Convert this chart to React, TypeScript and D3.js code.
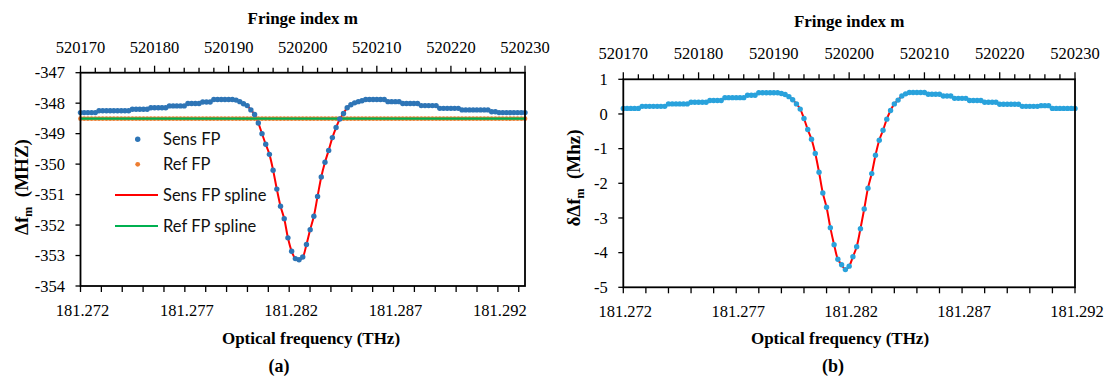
import React from 'react';
import * as d3 from 'd3';

// fringe index offsets from 520170 (half-fringe sampling)
const fringeOffset = [
  0, 0.5, 1, 1.5, 2, 2.5, 3, 3.5, 4, 4.5, 5, 5.5, 6, 6.5, 7, 7.5, 8, 8.5, 9, 9.5,
  10, 10.5, 11, 11.5, 12, 12.5, 13, 13.5, 14, 14.5, 15, 15.5, 16, 16.5, 17, 17.5, 18, 18.5, 19, 19.5,
  20, 20.5, 21, 21.5, 22, 22.5, 23, 23.5, 24, 24.5, 25, 25.5, 26, 26.5, 27, 27.5, 28, 28.5, 29, 29.5,
  30, 30.5, 31, 31.5, 32, 32.5, 33, 33.5, 34, 34.5, 35, 35.5, 36, 36.5, 37, 37.5, 38, 38.5, 39, 39.5,
  40, 40.5, 41, 41.5, 42, 42.5, 43, 43.5, 44, 44.5, 45, 45.5, 46, 46.5, 47, 47.5, 48, 48.5, 49, 49.5,
  50, 50.5, 51, 51.5, 52, 52.5, 53, 53.5, 54, 54.5, 55, 55.5, 56, 56.5, 57, 57.5, 58, 58.5, 59, 59.5,
  60,
];

// (a) Δf_m of the sensing FP (MHz)
const sensFP = [
  -348.31, -348.31, -348.31, -348.31, -348.31, -348.25, -348.25, -348.25, -348.25, -348.25,
  -348.25, -348.25, -348.25, -348.25, -348.2, -348.2, -348.2, -348.2, -348.2, -348.15,
  -348.15, -348.15, -348.15, -348.15, -348.09, -348.09, -348.09, -348.09, -348.09, -348.01,
  -348.01, -348.01, -348.01, -347.96, -347.96, -347.96, -347.88, -347.88, -347.88, -347.88,
  -347.88, -347.88, -347.9, -347.95, -348.02, -348.08, -348.22, -348.37, -348.65, -349.0,
  -349.35, -349.68, -350.2, -350.82, -351.38, -351.79, -352.42, -352.86, -353.1, -353.14,
  -353.05, -352.64, -352.15, -351.71, -351.06, -350.42, -349.94, -349.55, -349.13, -348.8,
  -348.52, -348.34, -348.15, -348.05, -347.99, -347.95, -347.92, -347.88, -347.88, -347.88,
  -347.88, -347.88, -347.88, -347.95, -347.95, -347.95, -347.95, -348.01, -348.01, -348.01,
  -348.01, -348.01, -348.08, -348.08, -348.08, -348.08, -348.08, -348.17, -348.17, -348.17,
  -348.17, -348.17, -348.17, -348.22, -348.22, -348.22, -348.22, -348.22, -348.22, -348.22,
  -348.22, -348.28, -348.28, -348.31, -348.31, -348.31, -348.31, -348.31, -348.31, -348.31,
  -348.31,
];

// (a) Δf_m of the reference FP (MHz)
const refFP = [
  -348.51, -348.51, -348.51, -348.51, -348.51, -348.51, -348.51, -348.51, -348.51, -348.51,
  -348.51, -348.51, -348.51, -348.51, -348.51, -348.51, -348.51, -348.51, -348.51, -348.51,
  -348.51, -348.51, -348.51, -348.51, -348.51, -348.51, -348.51, -348.51, -348.51, -348.51,
  -348.51, -348.51, -348.51, -348.51, -348.51, -348.51, -348.51, -348.51, -348.51, -348.51,
  -348.51, -348.51, -348.51, -348.51, -348.51, -348.51, -348.51, -348.51, -348.51, -348.51,
  -348.51, -348.51, -348.51, -348.51, -348.51, -348.51, -348.51, -348.51, -348.51, -348.51,
  -348.51, -348.51, -348.51, -348.51, -348.51, -348.51, -348.51, -348.51, -348.51, -348.51,
  -348.51, -348.51, -348.51, -348.51, -348.51, -348.51, -348.51, -348.51, -348.51, -348.51,
  -348.51, -348.51, -348.51, -348.51, -348.51, -348.51, -348.51, -348.51, -348.51, -348.51,
  -348.51, -348.51, -348.51, -348.51, -348.51, -348.51, -348.51, -348.51, -348.51, -348.51,
  -348.51, -348.51, -348.51, -348.51, -348.51, -348.51, -348.51, -348.51, -348.51, -348.51,
  -348.51, -348.51, -348.51, -348.51, -348.51, -348.51, -348.51, -348.51, -348.51, -348.51,
  -348.51,
];

// (b) δΔf_m (MHz)
const diffFP = [
  0.16, 0.16, 0.16, 0.16, 0.16, 0.22, 0.22, 0.22, 0.22, 0.22,
  0.22, 0.22, 0.29, 0.29, 0.29, 0.29, 0.29, 0.29, 0.34, 0.34,
  0.34, 0.34, 0.34, 0.39, 0.39, 0.39, 0.39, 0.47, 0.47, 0.47,
  0.47, 0.47, 0.47, 0.54, 0.54, 0.54, 0.61, 0.61, 0.61, 0.61,
  0.61, 0.61, 0.59, 0.56, 0.5, 0.41, 0.29, 0.14, -0.13, -0.45,
  -0.73, -1.14, -1.68, -2.28, -2.69, -3.28, -3.77, -4.19, -4.35, -4.49,
  -4.39, -4.12, -3.83, -3.31, -2.74, -2.14, -1.72, -1.19, -0.76, -0.47,
  -0.15, 0.1, 0.29, 0.4, 0.52, 0.58, 0.62, 0.62, 0.62, 0.62,
  0.62, 0.57, 0.57, 0.57, 0.57, 0.52, 0.52, 0.52, 0.45, 0.45,
  0.45, 0.45, 0.39, 0.39, 0.39, 0.39, 0.34, 0.34, 0.34, 0.34,
  0.28, 0.28, 0.28, 0.28, 0.28, 0.28, 0.22, 0.22, 0.22, 0.22,
  0.22, 0.24, 0.24, 0.24, 0.16, 0.16, 0.16, 0.16, 0.16, 0.16,
  0.16,
];

const fringeTicks = [520170, 520180, 520190, 520200, 520210, 520220, 520230];
const freqTicks = [181.272, 181.277, 181.282, 181.287, 181.292];
const leftYTicks = [-354, -353, -352, -351, -350, -349, -348, -347];
const rightYTicks = [-5, -4, -3, -2, -1, 0, 1];
const legendLabels = ['Sens FP', 'Ref FP', 'Sens FP spline', 'Ref FP spline'];

const SERIF = '"Liberation Serif", "Times New Roman", serif';
const SANS = 'Lato, "Noto Sans", sans-serif';
const M0 = 520170;

type Pt = { m: number; v: number };
const toPts = (vals: number[]): Pt[] => vals.map((v, i) => ({ m: M0 + fringeOffset[i], v }));

interface PanelProps {
  left: number;
  right: number;
  top: number;
  bottom: number;
  freqMax: number;
  yDomain: [number, number];
  yTicks: number[];
  topTitleY: number;
  topLabelY: number;
  bottomTitleX: number;
  letterX: number;
  letter: string;
  yTitle: React.ReactNode;
  children: (x: d3.ScaleLinear<number, number>, y: d3.ScaleLinear<number, number>) => React.ReactNode;
}

const Panel: React.FC<PanelProps> = (p) => {
  const x = d3.scaleLinear().domain([M0, M0 + 60]).range([p.left, p.right]);
  const xf = d3.scaleLinear().domain([181.272, p.freqMax]).range([p.left, p.right]);
  const y = d3.scaleLinear().domain(p.yDomain).range([p.bottom, p.top]);

  const minorTop = d3.range(M0, M0 + 60.01, 2);
  const minorBottom = d3.range(0, Math.floor((p.freqMax - 181.272) * 1000 + 1e-6) + 1).map((k) => 181.272 + k * 0.001);

  return (
    <g>
      <defs>
        <clipPath id={`clip-${p.letter}`}>
          <rect x={p.left} y={p.top} width={p.right - p.left} height={p.bottom - p.top} />
        </clipPath>
      </defs>
      <g clipPath={`url(#clip-${p.letter})`}>{p.children(x, y)}</g>
      <rect x={p.left} y={p.top} width={p.right - p.left} height={p.bottom - p.top}
        fill="none" stroke="#000" strokeWidth={1.8} />
      {/* top axis: fringe index */}
      {minorTop.map((m) => {
        const major = Math.abs((m - M0) % 10) < 1e-6;
        return <line key={'t' + m} x1={x(m)} x2={x(m)} y1={p.top} y2={p.top - (major ? 7 : 5)} stroke="#000" strokeWidth={1.3} />;
      })}
      {fringeTicks.map((m) => (
        <text key={'tl' + m} x={x(m)} y={p.topLabelY} textAnchor="middle" fontFamily={SERIF} fontSize={16.5}>{m}</text>
      ))}
      <text x={(p.left + p.right) / 2} y={p.topTitleY} textAnchor="middle" fontFamily={SERIF} fontWeight="bold" fontSize={17}>
        Fringe index m
      </text>
      {/* bottom axis: optical frequency */}
      {minorBottom.map((f, i) => (
        <line key={'b' + i} x1={xf(f)} x2={xf(f)} y1={p.bottom} y2={p.bottom + 6} stroke="#000" strokeWidth={1.3} />
      ))}
      {freqTicks.map((f) => (
        <text key={'bl' + f} x={xf(f) + 2} y={p.bottom + 30} textAnchor="middle" fontFamily={SERIF} fontSize={16.5}>{f.toFixed(3)}</text>
      ))}
      <text x={p.bottomTitleX} y={344} textAnchor="middle" fontFamily={SERIF} fontWeight="bold" fontSize={17}>
        Optical frequency (THz)
      </text>
      <text x={p.letterX} y={372} textAnchor="middle" fontFamily={SERIF} fontWeight="bold" fontSize={18}>
        {p.letter}
      </text>
      {/* left axis */}
      {p.yTicks.map((t) => (
        <g key={'y' + t}>
          <line x1={p.left - 5} x2={p.left} y1={y(t)} y2={y(t)} stroke="#000" strokeWidth={1.3} />
          <text x={p.left - 15.5} y={y(t)} dy="0.35em" textAnchor="end" fontFamily={SERIF} fontSize={16.5}>{t}</text>
        </g>
      ))}
      {p.yTitle}
    </g>
  );
};

const App: React.FC = () => {
  const sens = toPts(sensFP);
  const ref = toPts(refFP);
  const diff = toPts(diffFP);

  return (
    <svg width={1107} height={378} style={{ position: 'absolute', left: 0, top: 0, background: '#fff' }}>
      <Panel left={80.5} right={525} top={72.7} bottom={286} freqMax={181.2933}
        yDomain={[-354, -347]} yTicks={leftYTicks} topTitleY={24} topLabelY={53}
        bottomTitleX={311} letterX={279} letter="(a)"
        yTitle={
          <text transform="translate(28,187) rotate(-90)" textAnchor="middle" fontFamily={SERIF} fontWeight="bold" fontSize={19}>
            Δf<tspan dy={4} fontSize={12}>m</tspan><tspan dy={-4}>{'\u2002(MHZ)'}</tspan>
          </text>
        }>
        {(x, y) => {
          const line = d3.line<Pt>().x((d) => x(d.m)).y((d) => y(d.v)).curve(d3.curveCatmullRom);
          return (
            <g>
              <path d={line(sens) || ''} fill="none" stroke="#ff0000" strokeWidth={2} />
              {ref.map((d, i) => <circle key={'r' + i} cx={x(d.m)} cy={y(d.v)} r={2.4} fill="#ed7d31" />)}
              <path d={line(ref) || ''} fill="none" stroke="#00b050" strokeWidth={2.2} />
              {sens.map((d, i) => <circle key={'s' + i} cx={x(d.m)} cy={y(d.v)} r={2.7} fill="#2e75b6" />)}
            </g>
          );
        }}
      </Panel>
      {/* legend (a) */}
      <g fontFamily={SANS} fontSize={16.5} fill="#111">
        <circle cx={137.7} cy={139.3} r={2.7} fill="#2e75b6" />
        <text x={163} y={139.3} dy="0.35em">{legendLabels[0]}</text>
        <circle cx={137.7} cy={164.3} r={2.4} fill="#ed7d31" />
        <text x={163} y={164.3} dy="0.35em">{legendLabels[1]}</text>
        <line x1={115} x2={158} y1={195} y2={195} stroke="#ff0000" strokeWidth={2} />
        <text x={163} y={195} dy="0.35em">{legendLabels[2]}</text>
        <line x1={115} x2={158} y1={226} y2={226} stroke="#00b050" strokeWidth={2} />
        <text x={163} y={226} dy="0.35em">{legendLabels[3]}</text>
      </g>

      <Panel left={623.3} right={1075} top={79.3} bottom={287.3} freqMax={181.292}
        yDomain={[-5, 1]} yTicks={rightYTicks} topTitleY={27} topLabelY={59}
        bottomTitleX={840} letterX={833} letter="(b)"
        yTitle={
          <text transform="translate(580,178) rotate(-90)" textAnchor="middle" fontFamily={SERIF} fontWeight="bold" fontSize={19}>
            δΔf<tspan dy={4} fontSize={12}>m</tspan><tspan dy={-4}>{'\u2002(Mhz)'}</tspan>
          </text>
        }>
        {(x, y) => {
          const line = d3.line<Pt>().x((d) => x(d.m)).y((d) => y(d.v)).curve(d3.curveCatmullRom);
          return (
            <g>
              <path d={line(diff) || ''} fill="none" stroke="#ff0000" strokeWidth={2} />
              {diff.map((d, i) => <circle key={'d' + i} cx={x(d.m)} cy={y(d.v)} r={2.7} fill="#29a2dc" />)}
            </g>
          );
        }}
      </Panel>
    </svg>
  );
};

export default App;
